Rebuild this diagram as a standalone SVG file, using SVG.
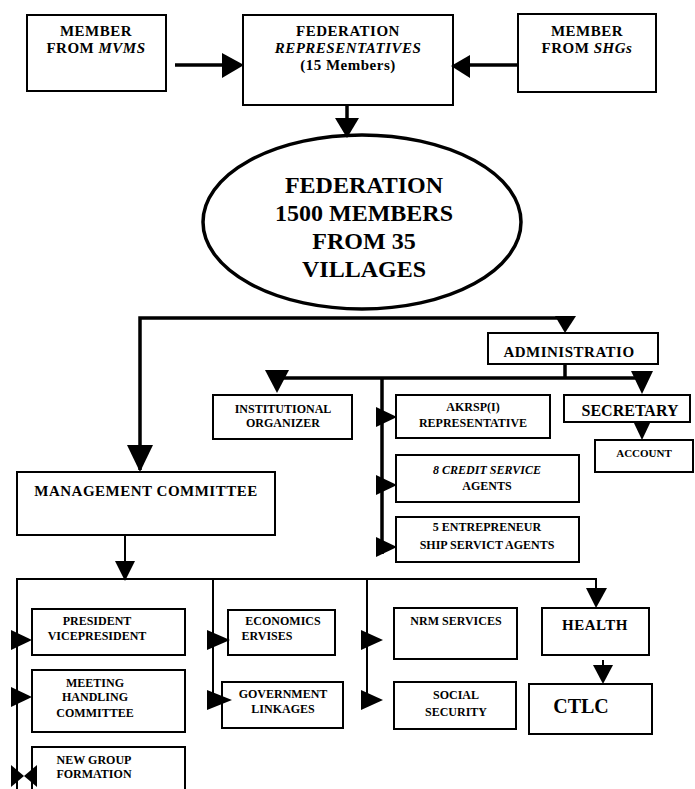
<svg xmlns="http://www.w3.org/2000/svg" width="695" height="789" viewBox="0 0 695 789">
<style>
.bx{fill:#fff;stroke:#000;stroke-width:2}
.t{font-family:"Liberation Serif","Times New Roman",serif;font-weight:bold;fill:#000;text-anchor:middle}
.s{font-size:12px}
.m{font-size:15px;letter-spacing:0.5px}
.e{font-size:24px}
.ln{fill:none;stroke:#000;stroke-width:2}
.lt{fill:none;stroke:#000;stroke-width:3.5}
.ah{fill:#000;stroke:none}
</style>
<rect width="695" height="789" fill="#fff"/>
<g id="mvms"><rect class="bx" x="27" y="15" width="139" height="76"/>
<text class="t m" x="96" y="36">MEMBER</text><text class="t m" x="96" y="53">FROM <tspan font-style="italic">MVMS</tspan></text></g>
<g id="fedrep"><rect class="bx" x="243" y="15" width="210" height="90"/>
<text class="t m" x="348" y="36">FEDERATION</text><text class="t m" x="348" y="53" font-style="italic">REPRESENTATIVES</text><text class="t m" x="348" y="70">(15 Members)</text></g>
<g id="shgs"><rect class="bx" x="518" y="14" width="138" height="78"/>
<text class="t m" x="587" y="36">MEMBER</text><text class="t m" x="587" y="53">FROM <tspan font-style="italic">SHGs</tspan></text></g>
<g id="federation"><ellipse cx="362" cy="222" rx="159" ry="87" fill="#fff" stroke="#000" stroke-width="3.5"/>
<text class="t e" x="364" y="193">FEDERATION</text><text class="t e" x="364" y="221">1500 MEMBERS</text><text class="t e" x="364" y="249">FROM 35</text><text class="t e" x="364" y="277">VILLAGES</text></g>
<g id="admin"><rect class="bx" x="488" y="333" width="170" height="31"/>
<text class="t m" x="569" y="357">ADMINISTRATIO</text></g>
<g id="instorg"><rect class="bx" x="213" y="395" width="139" height="44"/>
<text class="t s" x="283" y="413">INSTITUTIONAL</text><text class="t s" x="283" y="427">ORGANIZER</text></g>
<g id="akrsp"><rect class="bx" x="396" y="395" width="154" height="43"/>
<text class="t s" x="473" y="411">AKRSP(I)</text><text class="t s" x="473" y="427">REPRESENTATIVE</text></g>
<g id="secretary"><rect class="bx" x="564" y="395" width="126" height="27"/>
<text class="t" font-size="16" x="630" y="416">SECRETARY</text></g>
<g id="account"><rect class="bx" x="595" y="440" width="98" height="32"/>
<text class="t" font-size="11" x="644" y="457">ACCOUNT</text></g>
<g id="credit"><rect class="bx" x="396" y="455" width="183" height="47"/>
<text class="t s" x="487" y="474" font-style="italic">8 CREDIT SERVICE</text><text class="t s" x="487" y="490">AGENTS</text></g>
<g id="entre"><rect class="bx" x="396" y="517" width="183" height="45"/>
<text class="t s" x="487" y="531">5 ENTREPRENEUR</text><text class="t s" x="487" y="549">SHIP SERVICT AGENTS</text></g>
<g id="mgmt"><rect class="bx" x="17" y="472" width="258" height="63"/>
<text class="t m" x="146" y="496">MANAGEMENT COMMITTEE</text></g>
<g id="president"><rect class="bx" x="32" y="609" width="153" height="46"/>
<text class="t s" x="97" y="625">PRESIDENT</text><text class="t s" x="97" y="640">VICEPRESIDENT</text></g>
<g id="meeting"><rect class="bx" x="32" y="670" width="153" height="62"/>
<text class="t s" x="95" y="687">MEETING</text><text class="t s" x="95" y="701">HANDLING</text><text class="t s" x="95" y="717">COMMITTEE</text></g>
<g id="newgroup"><rect class="bx" x="32" y="747" width="153" height="50"/>
<text class="t s" x="94" y="764">NEW GROUP</text><text class="t s" x="94" y="778">FORMATION</text></g>
<g id="economics"><rect class="bx" x="228" y="610" width="107" height="45"/>
<text class="t s" x="283" y="625">ECONOMICS</text><text class="t s" x="267" y="640">ERVISES</text></g>
<g id="government"><rect class="bx" x="222" y="682" width="121" height="46"/>
<text class="t s" x="283" y="698">GOVERNMENT</text><text class="t s" x="283" y="713">LINKAGES</text></g>
<g id="nrm"><rect class="bx" x="394" y="608" width="123" height="51"/>
<text class="t s" x="456" y="625">NRM SERVICES</text></g>
<g id="social"><rect class="bx" x="394" y="682" width="122" height="47"/>
<text class="t s" x="456" y="699">SOCIAL</text><text class="t s" x="456" y="716">SECURITY</text></g>
<g id="health"><rect class="bx" x="542" y="608" width="107" height="47"/>
<text class="t m" x="595" y="630">HEALTH</text></g>
<g id="ctlc"><rect class="bx" x="529" y="684" width="123" height="50"/>
<text class="t" font-size="20" x="581" y="713">CTLC</text></g>
<g id="connectors">
<line class="lt" x1="175" y1="65" x2="224" y2="65"/>
<polygon class="ah" points="222,53 244,65 222,78"/>
<line class="lt" x1="518" y1="65" x2="468" y2="65"/>
<polygon class="ah" points="470,55 451,66 470,78"/>
<line class="lt" x1="347" y1="105" x2="347" y2="122"/>
<polygon class="ah" points="335,118 359,118 347,138"/>
<polyline class="lt" points="140,470 140,318 565,318 565,320"/>
<polygon class="ah" points="127,445 153,445 140,472"/>
<polygon class="ah" points="555,316 576,316 565,333"/>
<line class="lt" x1="565" y1="365" x2="565" y2="378"/>
<line class="lt" x1="277" y1="378" x2="642" y2="378"/>
<polygon class="ah" points="265,370 289,370 277,393"/>
<polygon class="ah" points="631,371 653,371 642,394"/>
<polygon class="ah" points="633,421 651,421 642,440"/>
<line class="lt" x1="382" y1="378" x2="382" y2="554"/>
<polygon class="ah" points="376,407 397,417 376,427"/>
<polygon class="ah" points="376,475 397,485 376,495"/>
<polygon class="ah" points="376,537 397,547 376,557"/>
<line class="ln" x1="125" y1="536" x2="125" y2="565"/>
<polygon class="ah" points="115,561 135,561 125,581"/>
<polyline class="ln" points="17,789 17,579 596,579 596,592"/>
<polygon class="ah" points="586,588 607,588 596,608"/>
<polygon class="ah" points="11,630 32,640 11,650"/>
<polygon class="ah" points="11,687 32,697 11,707"/>
<polygon class="ah" points="11,765 24,776 11,787"/>
<polygon class="ah" points="37,765 24,776 37,787"/>
<line class="ln" x1="213" y1="579" x2="213" y2="702"/>
<polygon class="ah" points="207,630 230,640 207,650"/>
<polygon class="ah" points="207,690 232,700 207,710"/>
<line class="ln" x1="367" y1="579" x2="367" y2="702"/>
<polygon class="ah" points="361,630 383,640 361,650"/>
<polygon class="ah" points="361,690 383,700 361,710"/>
<line class="ln" x1="603" y1="660" x2="603" y2="668"/>
<polygon class="ah" points="593,665 613,665 603,684"/>
</g>
</svg>
